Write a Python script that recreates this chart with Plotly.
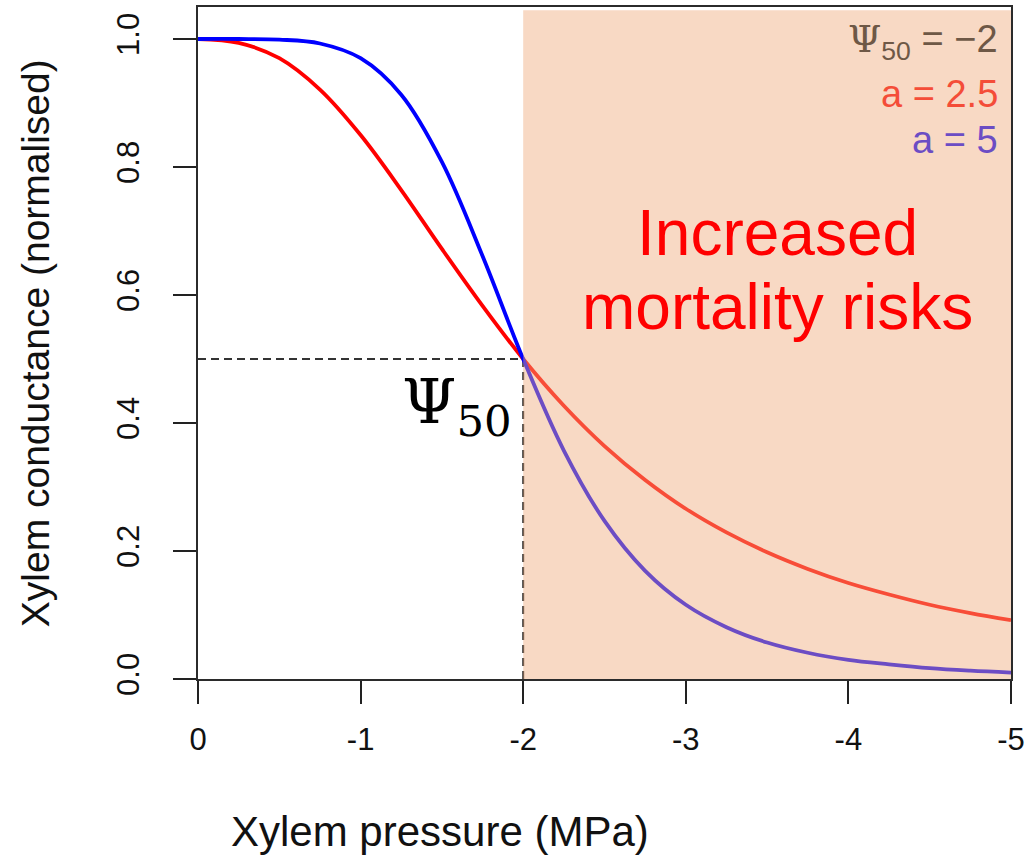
import plotly.graph_objects as go

# Xylem pressure (MPa) and normalised conductance for two vulnerability-curve shapes
pressure = [0, -0.25, -0.5, -0.75, -1.0, -1.25, -1.5, -1.75, -2.0, -2.25, -2.5,
            -2.75, -3.0, -3.25, -3.5, -3.75, -4.0, -4.25, -4.5, -4.75, -5.0]
cond_a25 = [1.0, 0.994, 0.970, 0.921, 0.850, 0.764, 0.672, 0.583, 0.500, 0.427, 0.364,
            0.311, 0.266, 0.229, 0.198, 0.172, 0.150, 0.132, 0.116, 0.103, 0.092]
cond_a5 = [1.0, 1.0, 0.999, 0.993, 0.970, 0.913, 0.808, 0.661, 0.500, 0.357, 0.247,
           0.169, 0.116, 0.081, 0.057, 0.041, 0.030, 0.023, 0.017, 0.013, 0.010]

psi50 = -2
k_half = 0.5
x_ticks = [0, -1, -2, -3, -4, -5]
x_ticktext = ["0", "-1", "-2", "-3", "-4", "-5"]
y_ticks = [0.0, 0.2, 0.4, 0.6, 0.8, 1.0]
y_ticktext = ["0.0", "0.2", "0.4", "0.6", "0.8", "1.0"]

SANS = "Liberation Sans, Arial, sans-serif"
SERIF = "DejaVu Serif, Liberation Serif, serif"

L, R, T, B = 198, 18, 5, 178
W, H = 1030, 857
PW, PH = W - L - R, H - T - B


def px_x(px):
    return (px - L) / PW


def px_y(py):
    return (H - B - py) / PH


fig = go.Figure()
fig.add_trace(go.Scatter(x=pressure, y=cond_a25, mode="lines", line=dict(color="#ff0000", width=3.8, shape="spline"),
                         showlegend=False, hoverinfo="skip"))
fig.add_trace(go.Scatter(x=pressure, y=cond_a5, mode="lines", line=dict(color="#0000ff", width=3.8, shape="spline"),
                         showlegend=False, hoverinfo="skip"))

# guide lines to the 50 % loss point
fig.add_shape(type="line", x0=0, x1=psi50, y0=k_half, y1=k_half, xref="x", yref="y", layer="below",
              line=dict(color="#333333", width=2, dash="8px,5px"))
fig.add_shape(type="line", x0=psi50, x1=psi50, y0=0, y1=k_half, xref="x", yref="y", layer="below",
              line=dict(color="#333333", width=2, dash="8px,5px"))

# translucent risk zone beyond psi50
fig.add_shape(type="rect", x0=psi50, x1=-5, y0=0, y1=0.995, xref="x", yref="paper", layer="above",
              fillcolor="rgba(239,170,124,0.45)", line=dict(width=0))

axis_common = dict(showline=True, linecolor="#2b2b2b", linewidth=2, mirror=True, ticks="outside",
                   ticklen=23, tickwidth=2, tickcolor="#222222", showgrid=False, zeroline=False)

fig.update_xaxes(range=[0, -5], tickvals=x_ticks, ticktext=x_ticktext,
                 tickfont=dict(family=SANS, size=31, color="#111111"), ticklabelstandoff=9, **axis_common)
fig.update_yaxes(range=[0, 1.05], tickvals=y_ticks, ticktext=y_ticktext, tickangle=-90,
                 tickfont=dict(family=SANS, size=31, color="#111111"), ticklabelstandoff=22, **axis_common)

annotations = [
    dict(text="Xylem pressure (MPa)", x=px_x(440), y=px_y(832), xref="paper", yref="paper",
         showarrow=False, xanchor="center", yanchor="middle", font=dict(family=SANS, size=42, color="#111111")),
    dict(text="Xylem conductance (normalised)", x=px_x(35), y=px_y(342), xref="paper", yref="paper",
         showarrow=False, textangle=-90, xanchor="center", yanchor="middle",
         font=dict(family=SANS, size=39, color="#111111")),
    dict(text="Increased", x=px_x(778), y=px_y(232), xref="paper", yref="paper", showarrow=False,
         xanchor="center", yanchor="middle", font=dict(family=SANS, size=64, color="#ff0000")),
    dict(text="mortality risks", x=px_x(778), y=px_y(306), xref="paper", yref="paper", showarrow=False,
         xanchor="center", yanchor="middle", font=dict(family=SANS, size=64, color="#ff0000")),
    dict(text="Ψ<sub>50</sub>", x=px_x(514), y=px_y(405), xref="paper", yref="paper", showarrow=False,
         xanchor="right", yanchor="middle", font=dict(family=SERIF, size=62, color="#000000")),
    dict(text="<span style='font-family:" + SERIF + "'>Ψ</span><sub>50</sub> = −2", x=px_x(1001), y=px_y(40),
         xref="paper", yref="paper", showarrow=False, xanchor="right", yanchor="middle",
         font=dict(family=SANS, size=38, color="#6e5846")),
    dict(text="a = 2.5", x=px_x(1001), y=px_y(92), xref="paper", yref="paper", showarrow=False,
         xanchor="right", yanchor="middle", font=dict(family=SANS, size=38, color="#f44d38")),
    dict(text="a = 5", x=px_x(1001), y=px_y(138), xref="paper", yref="paper", showarrow=False,
         xanchor="right", yanchor="middle", font=dict(family=SANS, size=38, color="#6c4dc4")),
]

fig.update_layout(width=W, height=H, margin=dict(l=L, r=R, t=T, b=B, pad=0),
                  paper_bgcolor="white", plot_bgcolor="white", annotations=annotations, showlegend=False)

fig.write_html("out.html")
